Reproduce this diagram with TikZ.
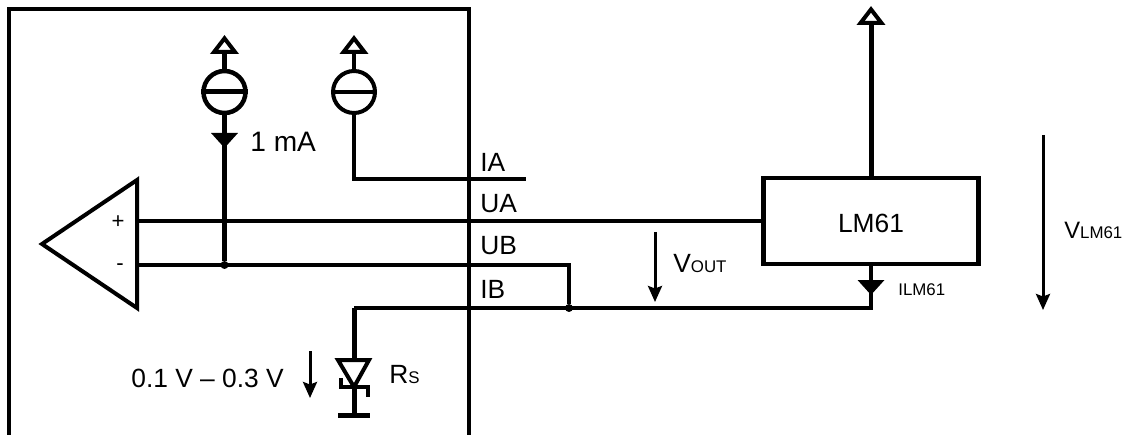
\documentclass[tikz,border=0pt]{standalone}
\usepackage{fontspec}
\setmainfont{Liberation Sans}
\usetikzlibrary{arrows.meta,positioning}
\newcommand{\lowcaps}[1]{{\fontsize{9.6pt}{10pt}\selectfont #1}}
\tikzstyle{every node}=[inner sep=0pt, font=\fontsize{15pt}{17pt}\selectfont]
\tikzstyle{wire}=[line width=0.08cm]
\tikzstyle{heavywire}=[line width=0.1cm]
\tikzstyle{frame}=[line width=0.09cm]
\tikzstyle{source}=[circle, draw=black, line width=0.08cm, minimum size=0.84cm]
\tikzstyle{chip}=[rectangle, draw=black, line width=0.09cm, minimum width=4.3cm, minimum height=1.72cm]
\tikzstyle{pin}=[anchor=base west]
\tikzstyle{sign}=[font=\fontsize{12.6pt}{14pt}\selectfont]
\tikzstyle{junction}=[circle, fill=black, minimum size=0.16cm]
\tikzstyle{voltage}=[line width=0.06cm, -{Stealth[length=0.32cm, width=0.28cm, inset=0.05cm]}]
\tikzstyle{supply}=[-{Triangle[open, length=0.38cm, width=0.56cm, line width=0.08cm]}]
\tikzstyle{current}=[-{Triangle[length=0.3cm, width=0.52cm]}]
\tikzstyle{tail}=[shorten <=-0.16cm]
\begin{document}
\begin{tikzpicture}[x=0.02cm, y=-0.02cm]
	\useasboundingbox (0, 0) rectangle (1125, 435);

	\draw[frame] (9, 435) -- (9, 9) -- (469, 9) -- (469, 435);

	\coordinate (ampout) at (42, 244);
	\coordinate (amptop) at (137, 180);
	\coordinate (ampbot) at (137, 308);
	\coordinate (ampplus) at (137, 221);
	\coordinate (ampminus) at (137, 265);
	\draw[wire, line join=miter] (ampout) -- (amptop) -- (ampbot) -- cycle;
	\node[sign] at (118, 222) (plus) {+};
	\node[sign] at (120, 267) (minus) {-};

	\node[source, line width=0.09cm] at (224.5, 92) (src1) {};
	\node[source] at (354, 92) (src2) {};
	\draw[heavywire] (src1.west) -- (src1.east);
	\draw[wire] (src2.west) -- (src2.east);

	\coordinate (top1) at (224.5, 35);
	\coordinate (top2) at (354, 35);
	\draw[heavywire, supply] (src1.north) -- (top1);
	\draw[wire, supply] (src2.north) -- (top2);

	\node[junction] at (224.5, 265) (dot1) {};
	\coordinate (head1) at (224.5, 148);
	\draw[heavywire, current] (src1.south) -- (head1);
	\draw[heavywire, tail] (head1) -- (dot1);
	\node[pin, font=\fontsize{16pt}{18pt}\selectfont] at (250, 152) (amp1) {1 mA};

	\node[chip] at (871, 221) (lm61) {\raisebox{-0.24cm}[0pt][0pt]{LM61}};
	\coordinate (top3) at (871, 6);
	\draw[heavywire, supply] (lm61.north) -- (top3);

	\coordinate (ia) at (526, 179);
	\coordinate (ub) at (569, 265);
	\coordinate (ib) at (354, 308);
	\node[junction] at (569, 308) (dot2) {};
	\draw[wire] (src2.south) |- (ia);
	\draw[wire] (ampplus) -- (lm61.west);
	\draw[wire] (ampminus) -- (ub) -- (dot2);
	\coordinate (head2) at (871, 295);
	\coordinate (corner) at (871, 308);
	\draw[wire, current] (lm61.south) -- (head2);
	\draw[wire, tail] (head2) -- (corner) -- (ib);

	\node[pin] at (480, 172) (lia) {IA};
	\node[pin] at (480, 213) (lua) {UA};
	\node[pin] at (480, 255) (lub) {UB};
	\node[pin] at (480, 298) (lib) {IB};

	\coordinate (dtop) at (354, 360);
	\coordinate (dapex) at (354, 387);
	\coordinate (dleft) at (338, 360);
	\coordinate (dright) at (369, 360);
	\coordinate (dbase) at (354, 415);
	\draw[heavywire] (ib) -- (dtop);
	\draw[wire, line join=miter] (dleft) -- (dright) -- (dapex) -- cycle;
	\draw[wire] (340.5, 378) -- (340.5, 387) -- (368, 387) -- (368, 397);
	\draw[heavywire] (dapex) -- (dbase);
	\draw[heavywire] (338, 415) -- (370, 415);
	\node[pin] at (389, 383) (rs) {R\lowcaps{S}};
	\node[pin] at (131, 387) (vrs) {0.1 V -- 0.3 V};
	\coordinate (vrstop) at (310, 351);
	\coordinate (vrsend) at (310, 398);
	\draw[voltage] (vrstop) -- (vrsend);

	\coordinate (vouttop) at (655, 232);
	\coordinate (voutend) at (655, 302);
	\draw[voltage] (vouttop) -- (voutend);
	\node[pin] at (673, 273) (vout) {V\lowcaps{OUT}};

	\coordinate (vlmtop) at (1043, 135);
	\coordinate (vlmend) at (1043, 310);
	\draw[voltage] (vlmtop) -- (vlmend);
	\node[pin, font=\fontsize{13.5pt}{15pt}\selectfont] at (1064, 239) (vlm) {V\lowcaps{LM61}};
	\node[pin] at (898, 296) (ilm) {\lowcaps{ILM61}};
\end{tikzpicture}
\end{document}
